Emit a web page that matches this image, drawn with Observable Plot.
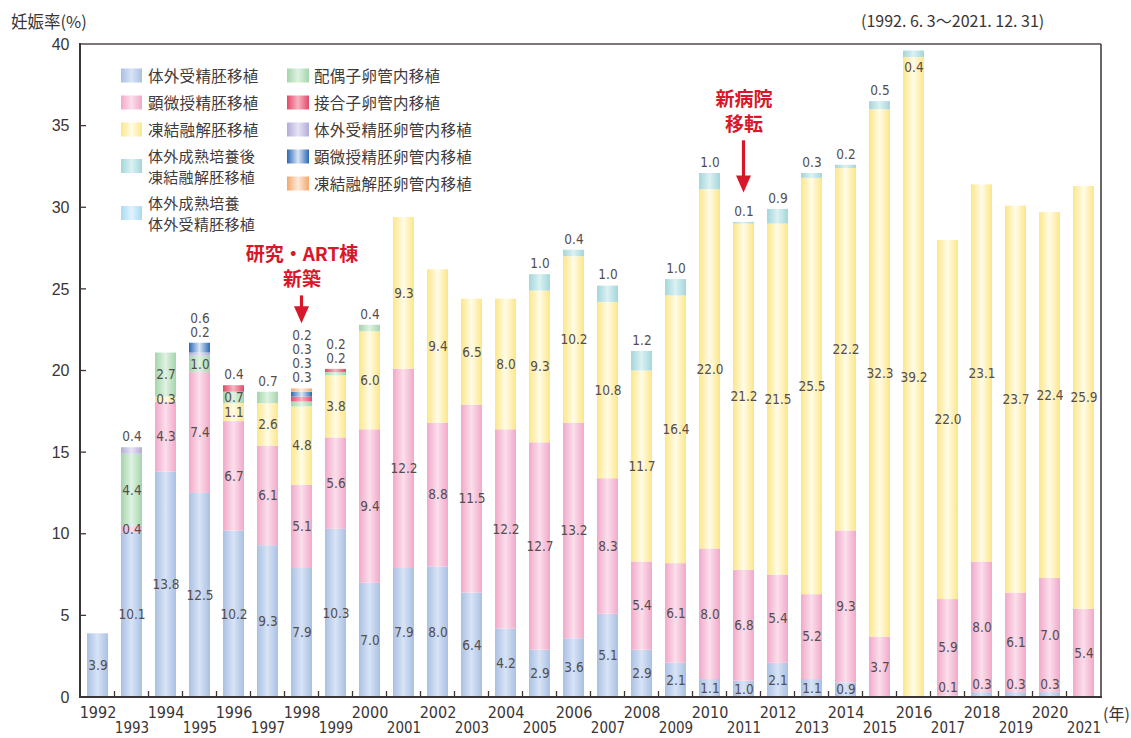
<!DOCTYPE html>
<html><head><meta charset="utf-8">
<script src="https://cdn.jsdelivr.net/npm/d3@7"></script>
<script src="https://cdn.jsdelivr.net/npm/@observablehq/plot@0.6"></script>
<style>
body{margin:0;background:#fff;}
#wrap{position:relative;width:1131px;height:738px;font-family:"Noto Sans CJK JP",sans-serif;color:#3f3a3a;overflow:hidden;}
.ov{position:absolute;white-space:nowrap;}
.item{position:absolute;display:flex;align-items:center;transform:translateY(-50%);font-size:15.5px;color:#3f3a3a;letter-spacing:0.3px;}
.item .ln{display:block;height:21px;line-height:21px;}
.item.two{font-size:15px;}
.sw{width:21px;height:14px;margin-right:6px;flex:none;}
</style></head><body>
<svg width="0" height="0" style="position:absolute"><defs id="grads"></defs></svg>
<div id="wrap"></div>
<script>
// ---- data ----
const years = [1992,1993,1994,1995,1996,1997,1998,1999,2000,2001,2002,2003,2004,2005,2006,2007,2008,2009,2010,2011,2012,2013,2014,2015,2016,2017,2018,2019,2020,2021];
const methodNames = ["体外受精胚移植","顕微授精胚移植","凍結融解胚移植","体外成熟培養後\n凍結融解胚移植","体外成熟培養\n体外受精胚移植","配偶子卵管内移植","接合子卵管内移植","体外受精胚卵管内移植","顕微授精胚卵管内移植","凍結融解胚卵管内移植"];
const ivf    = [3.9,10.1,13.8,12.5,10.2,9.3,7.9,10.3,7.0,7.9,8.0,6.4,4.2,2.9,3.6,5.1,2.9,2.1,1.1,1.0,2.1,1.1,0.9,0,0,0.1,0.3,0.3,0.3,0];
const icsi   = [0,0.4,4.3,7.4,6.7,6.1,5.1,5.6,9.4,12.2,8.8,11.5,12.2,12.7,13.2,8.3,5.4,6.1,8.0,6.8,5.4,5.2,9.3,3.7,0,5.9,8.0,6.1,7.0,5.4];
const fet    = [0,0,0.3,0,1.1,2.6,4.8,3.8,6.0,9.3,9.4,6.5,8.0,9.3,10.2,10.8,11.7,16.4,22.0,21.2,21.5,25.5,22.2,32.3,39.2,22.0,23.1,23.7,22.4,25.9];
const ivmFet = [0,0,0,0,0,0,0,0,0,0,0,0,0,1.0,0.4,1.0,1.2,1.0,1.0,0.1,0.9,0.3,0.2,0.5,0.4,0,0,0,0,0];
const ivmIvf = [0,0,0,0,0,0,0,0,0,0,0,0,0,0,0,0,0,0,0,0,0,0,0,0,0,0,0,0,0,0];
const gift   = [0,4.4,2.7,1.0,0.7,0.7,0.3,0.2,0.4,0,0,0,0,0,0,0,0,0,0,0,0,0,0,0,0,0,0,0,0,0];
const zift   = [0,0,0,0,0.4,0,0.3,0.2,0,0,0,0,0,0,0,0,0,0,0,0,0,0,0,0,0,0,0,0,0,0];
const tet    = [0,0.4,0,0.2,0,0,0,0,0,0,0,0,0,0,0,0,0,0,0,0,0,0,0,0,0,0,0,0,0,0];
const icsiTet= [0,0,0,0.6,0,0,0.3,0,0,0,0,0,0,0,0,0,0,0,0,0,0,0,0,0,0,0,0,0,0,0];
const fetTet = [0,0,0,0,0,0,0.2,0,0,0,0,0,0,0,0,0,0,0,0,0,0,0,0,0,0,0,0,0,0,0];
const seriesValues = [ivf,icsi,fet,ivmFet,ivmIvf,gift,zift,tet,icsiTet,fetTet];
const gradEdge   = ["#a9c0e4","#f2a8c9","#fde687","#a3d6db","#a6dbf5","#a3d5ab","#e4486a","#b3abd8","#2a69b6","#f3a76b"];
const gradCenter = ["#d8e3f5","#fbdfeb","#fffce8","#dbf1f2","#e2f3fc","#e0f2e2","#f6b5c1","#e7e4f3","#dbe6f5","#fdeadb"];
const yTicks = [0,5,10,15,20,25,30,35,40];
const annotations = [
  {year:1998, line1:"研究・ART棟", line2:"新築", tail:24.6, tip:22.9},
  {year:2011, line1:"新病院", line2:"移転", tail:34.1, tip:30.9}
];
const dateText = "(1992. 6. 3～2021. 12. 31)";
const yTitle = "妊娠率(%)";
const yearUnit = "(年)";

// ---- gradients ----
const ids = methodNames.map((_,i)=>"g"+i);
document.getElementById("grads").innerHTML = ids.map((id,i)=>
  `<linearGradient id="${id}" x1="0" x2="1" y1="0" y2="0">
     <stop offset="0" stop-color="${gradEdge[i]}"/>
     <stop offset="0.5" stop-color="${gradCenter[i]}"/>
     <stop offset="1" stop-color="${gradEdge[i]}"/>
   </linearGradient>`).join("");

// ---- rows ----
const rows = [];
years.forEach((yr,i)=>seriesValues.forEach((vals,s)=>{ if(vals[i]>0) rows.push({year:yr, method:methodNames[s], value:vals[i]}); }));

// ---- labels ----
const labels = [];
years.forEach((yr,i)=>{
  const segs=[]; let cum=0;
  seriesValues.forEach(vals=>{const v=vals[i]; if(v>0){segs.push({year:yr,v,y0:cum,y1:cum+v}); cum+=v;}});
  const total=cum;
  const above=[];
  for(let k=segs.length-1;k>=0;k--){
    const s=segs[k];
    if(k===segs.length-1 ? s.v<1.5 : s.v<0.5) above.push(s); else break;
  }
  above.reverse();
  segs.forEach((s,k)=>{
    const t=s.v.toFixed(1);
    const j=above.indexOf(s);
    if(j>=0){
      if(total>38) labels.push({year:yr,y:total,text:t,dy:17});
      else labels.push({year:yr,y:total,text:t,dy:-(11+14*j)});
    } else if(k===0 && s.v<0.5){
      labels.push({year:yr,y:s.y1,text:t,dy:-8});
    } else {
      labels.push({year:yr,y:(s.y0+s.y1)/2,text:t,dy:0});
    }
  });
});
const labelGroups = d3.groups(labels, d=>d.dy);

const numFont = "'Liberation Sans Narrow','DejaVu Sans Condensed',sans-serif";
const cjk = "'Noto Sans CJK JP',sans-serif";

const axesMark = (index, scales, values, dim) => {
  const x = scales.x, y = scales.y;
  const g = d3.create("svg:g");
  const L = dim.marginLeft, R = dim.width - dim.marginRight, T = dim.marginTop, B = dim.height - dim.marginBottom;
  const bw = x.bandwidth(), step = x.step();
  years.slice(0,-1).forEach(yr=>{
    const px = x(yr) + bw + (step-bw)/2;
    g.append("line").attr("x1",px).attr("x2",px).attr("y1",B).attr("y2",B-6).attr("stroke","#3b3535").attr("stroke-width",1.3);
  });
  yTicks.forEach(t=>{
    g.append("line").attr("x1",L).attr("x2",L+6).attr("y1",y(t)).attr("y2",y(t)).attr("stroke","#3b3535").attr("stroke-width",1.3);
  });
  g.append("line").attr("x1",L).attr("x2",R).attr("y1",T).attr("y2",T).attr("stroke","#7d7777").attr("stroke-width",2);
  g.append("line").attr("x1",R).attr("x2",R).attr("y1",T).attr("y2",B).attr("stroke","#3b3535").attr("stroke-width",1.5);
  g.append("line").attr("x1",L).attr("x2",L).attr("y1",T-1).attr("y2",B+1).attr("stroke","#3b3535").attr("stroke-width",2);
  g.append("line").attr("x1",L-1).attr("x2",R+1).attr("y1",B).attr("y2",B).attr("stroke","#3b3535").attr("stroke-width",2);
  return g.node();
};

const arrowMark = (index, scales) => {
  const x = scales.x, y = scales.y, bw = x.bandwidth();
  const g = d3.create("svg:g");
  annotations.forEach(a=>{
    const cx = x(a.year)+bw/2, y1=y(a.tail), y2=y(a.tip);
    g.append("line").attr("x1",cx).attr("x2",cx).attr("y1",y1).attr("y2",y2-14).attr("stroke","#d7182a").attr("stroke-width",3.2);
    g.append("path").attr("d",`M${cx-7.5},${y2-17}L${cx+7.5},${y2-17}L${cx},${y2}Z`).attr("fill","#d7182a");
  });
  return g.node();
};

const annStyle = {x:"year", y:"tail", fontSize:19, fontWeight:"bold", fill:"#d7182a", fontFamily:cjk};

const chart = Plot.plot({
  width:1131, height:738,
  marginLeft:80, marginRight:30, marginTop:44, marginBottom:41,
  style:{fontFamily:numFont, fontSize:"15px", color:"#4a4242", background:"transparent", overflow:"visible"},
  x:{type:"band", domain:years, paddingInner:0.38, paddingOuter:0.19, axis:null},
  y:{domain:[0,40], axis:null},
  color:{type:"ordinal", domain:methodNames, range:ids.map(id=>`url(#${id})`)},
  marks:[
    Plot.barY(rows, Plot.stackY({x:"year", y:"value", fill:"method", z:"method", order:methodNames})),
    axesMark,
    ...labelGroups.map(([dy,arr])=>Plot.text(arr,{x:"year", y:"y", text:"text", dy, fill:"#554d4d", fontSize:13.5})),
    Plot.text(yTicks,{y:d=>d, text:d=>String(d), frameAnchor:"left", textAnchor:"end", dx:-11, fontSize:16, fill:"#3a3535", fontFamily:"'Liberation Sans',sans-serif"}),
    Plot.text(years.filter(d=>d%2===0),{x:d=>d, text:d=>String(d), frameAnchor:"bottom", lineAnchor:"middle", dy:15, fontSize:16, fill:"#3a3535"}),
    Plot.text(years.filter(d=>d%2===1),{x:d=>d, text:d=>String(d), frameAnchor:"bottom", lineAnchor:"middle", dy:31, fontSize:15, fill:"#3a3535"}),
    arrowMark,
    Plot.text(annotations,{...annStyle, text:"line2", dy:-16}),
    Plot.text(annotations,{...annStyle, text:"line1", dy:-41})
  ]
});

const wrap = document.getElementById("wrap");
wrap.appendChild(chart);

function ov(html, css){ const d=document.createElement("div"); d.className="ov"; d.style.cssText=css; d.innerHTML=html; wrap.appendChild(d); return d; }
ov(yTitle, "left:11px;top:9px;font-size:16.5px;color:#3a3535;");
ov(dateText, "left:861px;top:8px;font-size:16px;color:#3a3535;font-family:'Noto Sans CJK JP',sans-serif;");
ov(yearUnit, "left:1103px;top:701px;font-size:16px;color:#3a3535;");

// legend
const legendPos = [
  [121,75],[121,102],[121,129],[121,166],[121,213],
  [287,75],[287,102],[287,129],[287,156],[287,183]
];
methodNames.forEach((name,i)=>{
  const d=document.createElement("div");
  const parts=name.split("\n");
  d.className="item"+(parts.length>1?" two":"");
  d.style.left=legendPos[i][0]+"px"; d.style.top=legendPos[i][1]+"px";
  d.innerHTML=`<div class="sw" style="background:linear-gradient(to right, ${gradEdge[i]}, ${gradCenter[i]}, ${gradEdge[i]});${i>=5?'width:22px;margin-right:5px;':''}"></div><div>${parts.map(s=>`<span class="ln">${s}</span>`).join("")}</div>`;
  wrap.appendChild(d);
});
</script>
</body></html>
